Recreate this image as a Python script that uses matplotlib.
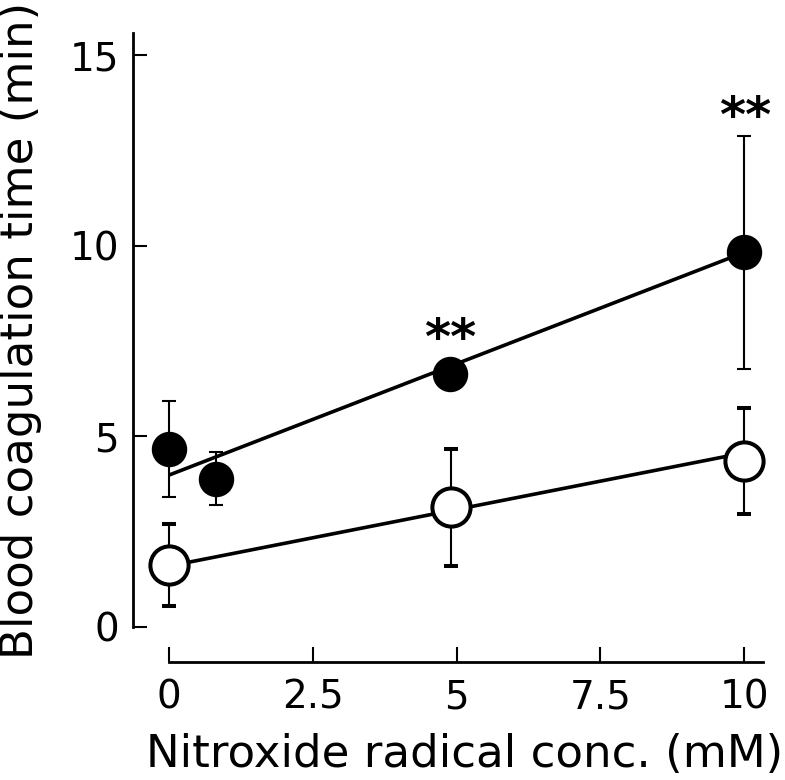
import matplotlib
matplotlib.use("Agg")
import matplotlib.pyplot as plt

# --- data ---
filled_x = [0, 0.81, 4.88, 10]
filled_y = [4.67, 3.89, 6.63, 9.83]
filled_err = [1.27, 0.69, 0.0, 3.05]

open_x = [0, 4.9, 10]
open_y = [1.63, 3.14, 4.36]
open_err = [1.07, 1.53, 1.40]

fit_filled_x = [0, 10]
fit_filled_y = [3.99, 9.83]
fit_open_x = [0, 10]
fit_open_y = [1.60, 4.57]

star_x = [4.88, 10.02]
star_y = [7.52, 13.35]
star_labels = ["**", "**"]

xticks = [0, 2.5, 5, 7.5, 10]
xtick_labels = ["0", "2.5", "5", "7.5", "10"]
yticks = [0, 5, 10, 15]
ytick_labels = ["0", "5", "10", "15"]

W, H = 785, 780
fig = plt.figure(figsize=(W / 100, H / 100), dpi=100)
ax = fig.add_axes([133 / W, (H - 662) / H, (770 - 133) / W, (662 - 25) / H])

ax.plot(fit_filled_x, fit_filled_y, color="black", lw=2.6, zorder=2, solid_capstyle="butt")
ax.plot(fit_open_x, fit_open_y, color="black", lw=2.6, zorder=2, solid_capstyle="butt")

ax.errorbar(filled_x, filled_y, yerr=filled_err, fmt="o", color="black",
            ms=24.5, mfc="black", mec="black", ecolor="black",
            elinewidth=1.5, capsize=5, capthick=1.5, zorder=3)
ax.errorbar(open_x, open_y, yerr=open_err, fmt="o", color="black",
            ms=27.5, mfc="white", mec="black", mew=2.9, ecolor="black",
            elinewidth=1.5, capsize=5, capthick=1.5, zorder=3)

for sx, sy, lab in zip(star_x, star_y, star_labels):
    ax.text(sx, sy, lab, ha="center", va="center", fontsize=36,
            fontweight="bold", color="black")

ax.set_xlim(-0.632, 10.45)
ax.set_ylim(-0.919, 15.80)

for s in ["top", "right"]:
    ax.spines[s].set_visible(False)
ax.spines["left"].set_linewidth(2.0)
ax.spines["bottom"].set_linewidth(2.0)
ax.spines["left"].set_bounds(0, 15.6)
ax.spines["bottom"].set_bounds(0, 10.33)

ax.set_xticks(xticks)
ax.set_xticklabels(xtick_labels)
ax.set_yticks(yticks)
ax.set_yticklabels(ytick_labels)
ax.tick_params(axis="y", direction="in", length=10, width=1.5, pad=10, labelsize=28)
ax.tick_params(axis="x", direction="in", length=11, width=1.5, pad=12, labelsize=28)

ax.set_xlabel("Nitroxide radical conc. (mM)", fontsize=32.5)
ax.set_ylabel("Blood coagulation time (min)", fontsize=32.5)
ax.xaxis.set_label_coords((465 - 133) / 637, (662 - 767) / 637)
ax.xaxis.label.set_va("baseline")
ax.yaxis.set_label_coords((42 - 133) / 637, (662 - 330) / 637)

fig.savefig("out.png", dpi=100)
